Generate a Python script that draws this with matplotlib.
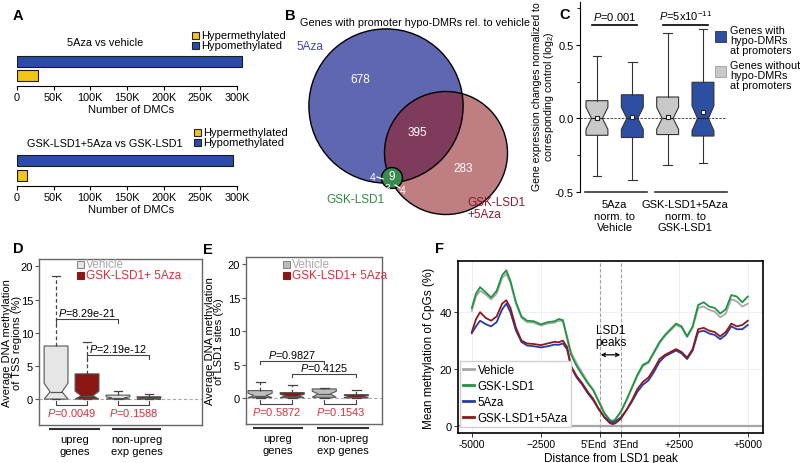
import numpy as np
import matplotlib
matplotlib.use("Agg")
import matplotlib.pyplot as plt
from matplotlib.patches import Circle, Rectangle

plt.rcParams['font.family'] = ['Liberation Sans', 'DejaVu Sans']
plt.rcParams['mathtext.fontset'] = 'custom'
plt.rcParams['mathtext.rm'] = 'Liberation Sans'
plt.rcParams['mathtext.it'] = 'Liberation Sans:italic'
plt.rcParams['mathtext.bf'] = 'Liberation Sans:bold'

# ---- panel A : number of DMCs
dmc_titles = ["5Aza vs vehicle", "GSK-LSD1+5Aza vs GSK-LSD1"]
dmc_hyper = [29000, 14000]
dmc_hypo = [307000, 294000]
dmc_ticks = [0, 50000, 100000, 150000, 200000, 250000, 300000]
dmc_tick_labels = ["0", "50K", "100K", "150K", "200K", "250K", "300K"]

# ---- panel B : venn counts
venn_only_5aza = 678
venn_5aza_combo = 395
venn_only_combo = 283
venn_all = 9
venn_5aza_gsk = 4
venn_only_gsk = 3
venn_gsk_combo = 4

# ---- panel C : expression changes (box stats)
c_groups = ["5Aza\nnorm. to\nVehicle", "GSK-LSD1+5Aza\nnorm. to\nGSK-LSD1"]
c_q1 = [-0.115, -0.13, -0.11, -0.12]
c_med = [0.0, 0.0, 0.0, 0.0]
c_q3 = [0.12, 0.16, 0.145, 0.245]
c_lo = [-0.39, -0.42, -0.32, -0.30]
c_hi = [0.42, 0.38, 0.58, 0.61]
c_mean = [0.0, 0.01, 0.01, 0.045]
c_notch = [0.075, 0.075, 0.075, 0.085]
c_pvals = ["$P$=0.001", "$P$=5x10$^{-11}$"]

# ---- panel D : TSS methylation
d_q1 = [0.0, 0.0, 0.0, 0.0]
d_med = [1.1, 0.5, 0.2, 0.12]
d_q3 = [8.0, 3.8, 0.6, 0.35]
d_lo = [0.0, 0.0, 0.0, 0.0]
d_hi = [18.5, 8.6, 1.2, 0.8]
d_ci_hi = [2.4, 1.2, 0.35, 0.2]
d_top_p = ["$P$=8.29e-21", "$P$=2.19e-12"]
d_bottom_p = ["$P$=0.0049", "$P$=0.1588"]

# ---- panel E : LSD1 sites methylation
e_q1 = [0.05, 0.05, 0.1, 0.02]
e_med = [0.35, 0.3, 0.6, 0.15]
e_q3 = [1.1, 0.8, 1.35, 0.5]
e_lo = [0.0, 0.0, 0.0, 0.0]
e_hi = [2.4, 1.9, 1.55, 1.2]
e_ci_hi = [0.7, 0.55, 1.0, 0.35]
e_top_p = ["$P$=0.9827", "$P$=0.4125"]
e_bottom_p = ["$P$=0.5872", "$P$=0.1543"]

de_groups = ["upreg\ngenes", "non-upreg\nexp genes"]

# ---- panel F : CpG methylation profile around LSD1 peaks
f_dist = [-5000, -4850, -4700, -4500, -4300, -4100, -3900, -3750, -3600, -3400,
          -3200, -3000, -2750, -2500, -2250, -2000, -1850, -1700, -1550, -1400,
          -1200, -1000, -800, -600, -400, -200, 0, 100, 200, 400,
          600, 800, 1000, 1200, 1400, 1600, 1800, 2000, 2200, 2400,
          2600, 2800, 3000, 3200, 3400, 3600, 3800, 4000, 4200, 4400,
          4600, 4800, 5000]
f_vehicle = [40.5, 45.5, 47.5, 46.2, 44.5, 46.5, 52.0, 53.5, 50.3, 43.0,
             38.0, 36.5, 36.3, 35.3, 36.0, 36.3, 37.0, 36.8, 31.5, 25.8,
             22.0, 18.7, 15.5, 12.8, 8.8, 4.7, 2.1, 1.8, 2.4, 5.0,
             9.0, 13.3, 17.6, 21.0, 22.2, 25.5, 29.0, 31.6, 33.6, 35.5,
             34.6, 31.2, 34.5, 41.5, 42.0, 40.8, 40.2, 38.2, 39.5, 44.6,
             43.8, 42.0, 43.0]
f_gsk = [41.5, 46.5, 48.8, 47.0, 45.2, 47.5, 53.0, 54.7, 51.0, 43.5,
         38.5, 37.0, 36.8, 35.7, 36.5, 36.8, 37.6, 37.2, 31.0, 25.0,
         21.0, 18.0, 15.0, 12.5, 8.5, 4.5, 2.0, 1.6, 2.2, 5.0,
         9.0, 13.5, 18.0, 21.5, 22.5, 26.0, 29.5, 32.0, 34.0, 36.0,
         35.0, 31.5, 35.0, 42.5, 43.5, 42.0, 41.5, 39.5, 41.0, 46.0,
         45.5, 43.5, 45.5]
f_5aza = [32.6, 35.0, 37.0, 35.8, 35.0, 36.5, 41.0, 43.0, 40.0, 33.5,
          29.5, 28.3, 28.0, 27.6, 28.0, 28.6, 28.5, 29.0, 27.0, 20.5,
          17.0, 14.5, 11.5, 9.0, 5.8, 3.2, 1.4, 1.2, 1.5, 3.0,
          5.5, 8.5, 12.0, 14.5, 16.0, 19.0, 22.5, 24.5, 25.5, 26.5,
          25.5, 23.5, 26.5, 33.0, 33.5, 32.5, 32.0, 30.5, 32.0, 35.0,
          34.0, 34.0, 35.5]
f_combo = [33.0, 37.5, 40.0, 38.0, 37.0, 38.5, 43.0, 44.2, 41.5, 34.5,
           30.0, 29.0, 28.8, 28.4, 29.0, 29.6, 29.4, 30.0, 27.8, 21.0,
           17.5, 15.0, 12.0, 9.5, 6.0, 3.0, 1.0, 0.6, 0.9, 2.5,
           5.5, 9.0, 13.0, 15.5, 17.0, 20.0, 23.5, 25.0, 26.0, 27.0,
           26.0, 24.0, 27.0, 34.0, 34.5, 33.5, 33.0, 31.5, 33.0, 36.0,
           35.0, 35.5, 37.0]
f_labels = ["Vehicle", "GSK-LSD1", "5Aza", "GSK-LSD1+5Aza"]

W, H = 800, 464
BLUE = "#2C4BA8"
YELLOW = "#F2C514"
RED_TXT = "#DC2F3C"
DARK_RED = "#8B1616"

fig = plt.figure(figsize=(W / 100, H / 100), dpi=100)
canvas = fig.add_axes([0, 0, 1, 1])
canvas.set_xlim(0, W)
canvas.set_ylim(H, 0)
canvas.axis('off')
canvas.set_zorder(10)


def px_axes(l, t, r, b):
    """Axes placed with pixel edges (left, top, right, bottom)."""
    return fig.add_axes([l / W, 1 - b / H, (r - l) / W, (b - t) / H])


def legend_square(x, y, face, edge, label, color, size=7, fs=8):
    canvas.add_patch(Rectangle((x, y - size / 2), size, size, facecolor=face,
                               edgecolor=edge, lw=0.8))
    canvas.text(x + size + 2, y, label, fontsize=fs, color=color, va='center', ha='left')


# panel letters
for letter, x, y in [("A", 18, 16), ("B", 290, 16), ("C", 565, 15),
                     ("D", 18, 249), ("E", 208, 250), ("F", 440, 249)]:
    canvas.text(x, y, letter, fontsize=10.5, fontweight='bold', ha='center', va='center')

# ---------------- A
a_boxes = [(17, 52, 245, 87), (17, 151, 245, 187)]
a_titles_y = [43, 144]
a_leg = [(192, 36), (194, 133)]
for i in range(2):
    ax = px_axes(*a_boxes[i])
    ax.barh([1], [dmc_hypo[i]], height=0.79, color=BLUE, edgecolor="#1a1a1a", lw=0.8)
    ax.barh([0], [dmc_hyper[i]], height=0.79, color=YELLOW, edgecolor="#1a1a1a", lw=0.8)
    ax.set_xlim(0, 310909)
    ax.set_ylim(-0.75, 1.75)
    for s in ['top', 'right', 'left']:
        ax.spines[s].set_visible(False)
    ax.spines['bottom'].set_bounds(0, 300000)
    ax.spines['bottom'].set_linewidth(0.8)
    ax.set_yticks([])
    ax.set_xticks(dmc_ticks)
    ax.set_xticklabels(dmc_tick_labels, fontsize=7.8)
    ax.tick_params(axis='x', length=3, width=0.8, pad=1.5)
    ax.set_xlabel("Number of DMCs", fontsize=8, labelpad=1)
    ax.patch.set_alpha(0)
    canvas.text(105, a_titles_y[i], dmc_titles[i], fontsize=7.8, ha='center', va='center')
    lx, ly = a_leg[i]
    legend_square(lx, ly, YELLOW, "#222", "Hypermethylated", "black", fs=8)
    legend_square(lx, ly + 10, BLUE, "#222", "Hypomethylated", "black", fs=8)

# ---------------- B
canvas.text(415, 23, "Genes with promoter hypo-DMRs rel. to vehicle", fontsize=7.8,
            ha='center', va='center')
axb = px_axes(295, 28, 530, 230)
axb.set_xlim(295, 530)
axb.set_ylim(230, 28)
axb.axis('off')
total_5aza = venn_only_5aza + venn_5aza_combo + venn_all + venn_5aza_gsk
total_combo = venn_only_combo + venn_5aza_combo + venn_all + venn_gsk_combo
total_gsk = venn_all + venn_5aza_gsk + venn_only_gsk + venn_gsk_combo
k = 2.34
c5 = Circle((386, 107), k * np.sqrt(total_5aza), facecolor="#5F67B0", edgecolor='none')
cc = Circle((446, 154), k * np.sqrt(total_combo), facecolor="#BF7E82", edgecolor='none')
axb.add_patch(c5)
axb.add_patch(cc)
ov = Circle((446, 154), k * np.sqrt(total_combo), facecolor="#7E3B5B", edgecolor='none')
axb.add_patch(ov)
ov.set_clip_path(c5)
for c, r in [((386, 107), k * np.sqrt(total_5aza)), ((446, 154), k * np.sqrt(total_combo))]:
    axb.add_patch(Circle(c, r, facecolor='none', edgecolor='black', lw=1.0))
axb.add_patch(Circle((392, 179), k * np.sqrt(total_gsk), facecolor="#3A8A4E",
                     edgecolor='black', lw=1.0))
vt = dict(color='white', fontsize=8.5, ha='center', va='center')
axb.text(360, 80, str(venn_only_5aza), **vt)
axb.text(417, 133, str(venn_5aza_combo), **vt)
axb.text(463, 169, str(venn_only_combo), **vt)
axb.text(392, 177, str(venn_all), **vt)
axb.text(373, 178, str(venn_5aza_gsk), color='white', fontsize=7.5, ha='center', va='center')
axb.plot([377, 383], [178, 180], color='white', lw=0.9)
axb.text(388, 189, str(venn_only_gsk), color='white', fontsize=7.5, ha='center', va='center')
axb.text(403, 191, str(venn_gsk_combo), color='white', fontsize=7.5, ha='center', va='center')
axb.plot([395, 400], [186, 189], color='white', lw=0.9)
canvas.text(310, 47, "5Aza", color="#3C4AA8", fontsize=8.5, ha='center', va='center')
canvas.text(355, 200, "GSK-LSD1", color="#2E8B45", fontsize=8.5, ha='center', va='center')
canvas.text(467, 203, "GSK-LSD1", color="#8B1A2A", fontsize=8.5, ha='left', va='center')
canvas.text(467, 215, "+5Aza", color="#8B1A2A", fontsize=8.5, ha='left', va='center')

# ---------------- C
axc = px_axes(580, 3, 727, 193)
c_stats = []
for i in range(4):
    c_stats.append(dict(med=c_med[i], q1=c_q1[i], q3=c_q3[i], whislo=c_lo[i], whishi=c_hi[i],
                        mean=c_mean[i], cilo=c_med[i] - c_notch[i], cihi=c_med[i] + c_notch[i],
                        fliers=[]))
bp = axc.bxp(c_stats, positions=[1, 2, 3, 4], widths=0.62, shownotches=True, showmeans=True,
             patch_artist=True, capwidths=0.25,
             boxprops=dict(edgecolor='#333333', lw=0.8),
             whiskerprops=dict(color='#333333', lw=0.8),
             capprops=dict(color='#333333', lw=0.8),
             medianprops=dict(color='#222222', lw=0.8),
             meanprops=dict(marker='s', markerfacecolor='white', markeredgecolor='#222',
                            markersize=3.5, markeredgewidth=0.8))
for b, col in zip(bp['boxes'], ["#C8C8C8", "#2D4FA2", "#C8C8C8", "#2D4FA2"]):
    b.set_facecolor(col)
axc.axhline(0, color='#333333', lw=0.6, ls=(0, (3, 1.5)), zorder=0.5)
axc.set_xlim(0.52, 4.68)
axc.set_ylim(-0.5, 0.79)
for s in ['top', 'right', 'bottom']:
    axc.spines[s].set_visible(False)
axc.spines['left'].set_linewidth(0.8)
axc.set_xticks([])
axc.set_yticks([-0.5, 0.0, 0.5])
axc.set_yticklabels(["-0.5", "0.0", "0.5"], fontsize=8)
axc.set_yticks([-0.25, 0.25, 0.75], minor=True)
axc.tick_params(axis='y', which='major', length=3, width=0.8, pad=1.5)
axc.tick_params(axis='y', which='minor', length=2, width=0.6)
for (x0, x1), p in zip([(0.87, 2.13), (2.87, 4.13)], c_pvals):
    axc.plot([x0, x1], [0.637, 0.637], color='black', lw=1.2, clip_on=False)
    axc.text((x0 + x1) / 2, 0.655, p, fontsize=8, ha='center', va='bottom')
for (x0, x1) in [(0.66, 2.42), (2.65, 4.68)]:
    axc.plot([x0, x1], [-0.5, -0.5], color='#333333', lw=1.2, clip_on=False)
for xc, g in zip([1.5, 3.5], c_groups):
    axc.text(xc, -0.55, g, fontsize=8, ha='center', va='top', linespacing=1.15)
canvas.text(544, 97, "Gene expression changes normalized to\ncorresponding control (log$_2$)",
            rotation=90, fontsize=7.6, ha='center', va='center', multialignment='center',
            linespacing=0.95)
canvas.add_patch(Rectangle((715, 32), 11, 11, facecolor="#2D4FA2", edgecolor='#333', lw=0.6))
canvas.text(730, 41, "Genes with\nhypo-DMRs\nat promoters", fontsize=7.8, ha='left', va='center',
            linespacing=0.95)
canvas.add_patch(Rectangle((715, 67), 11, 11, facecolor="#C8C8C8", edgecolor='#999', lw=0.6))
canvas.text(730, 76, "Genes without\nhypo-DMRs\nat promoters", fontsize=7.8, ha='left',
            va='center', linespacing=0.95)


# ---------------- D and E
def methyl_panel(box, xlim, width, q1, med, q3, lo, hi, ci_hi, gray_col, top_p, bottom_p,
                 top_y, ylabel, ylabel_x, group_lines, leg_xy):
    ax = px_axes(*box)
    stats = []
    for i in range(4):
        stats.append(dict(med=med[i], q1=q1[i], q3=q3[i], whislo=lo[i], whishi=hi[i],
                          cilo=q1[i], cihi=ci_hi[i], fliers=[]))
    bp = ax.bxp(stats, positions=[1, 2, 3, 4], widths=width, shownotches=True, patch_artist=True,
                capwidths=0.28,
                boxprops=dict(edgecolor='#555555', lw=0.8),
                whiskerprops=dict(color='#444444', lw=0.9, ls=(0, (3, 2))),
                capprops=dict(color='#444444', lw=0.9),
                medianprops=dict(color='#555555', lw=0.9))
    for b, col in zip(bp['boxes'], [gray_col, DARK_RED, gray_col, DARK_RED]):
        b.set_facecolor(col)
    ax.axhline(0, color='#AAAAAA', lw=0.8, ls=(0, (3, 2)), zorder=0.5)
    ax.set_xlim(*xlim)
    ax.set_ylim(-3.9, 21.1)
    for s in ax.spines.values():
        s.set_color('#666666')
        s.set_linewidth(1.0)
    ax.set_xticks([])
    ax.set_yticks([0, 5, 10, 15, 20])
    ax.set_yticklabels(["0", "5", "10", "15", "20"], fontsize=8)
    ax.tick_params(axis='y', length=3, width=0.8, pad=1.2, color='#555555')
    ax.set_ylabel(ylabel, fontsize=8, linespacing=0.95)
    ax.yaxis.set_label_coords(ylabel_x, 0.5)
    # comparisons between conditions
    for (x0, x1), yb, p in zip([(1, 3), (2, 4)], top_y, top_p):
        ax.plot([x0, x0, x1, x1], [yb - 0.5, yb, yb, yb - 0.5], color='#444444', lw=0.8)
        ax.text((x0 + x1) / 2, yb + 0.15, p, fontsize=7.8, ha='center', va='bottom')
    for (x0, x1), p in zip([(1, 2), (3, 4)], bottom_p):
        ax.plot([x0, x0, x1, x1], [-0.35, -0.9, -0.9, -0.35], color='#444444', lw=0.8)
        ax.text((x0 + x1) / 2, -2.0, p, fontsize=8, color=RED_TXT, ha='center', va='center')
    for (x0, x1), g in zip(group_lines, de_groups):
        ax.plot([x0, x1], [-4.5, -4.5], color='#333333', lw=1.5, clip_on=False)
        ax.text((x0 + x1) / 2, -5.3, g, fontsize=8, ha='center', va='top', linespacing=1.25)
    lx, ly = leg_xy
    legend_square(lx, ly, gray_col, '#888888', "Vehicle", '#A8A8A8', size=7, fs=8.5)
    legend_square(lx, ly + 11, DARK_RED, DARK_RED, "GSK-LSD1+ 5Aza", RED_TXT, size=7, fs=8.5)
    return ax


methyl_panel((39, 260, 202, 426), (0.45, 5.71), 0.77, d_q1, d_med, d_q3, d_lo, d_hi, d_ci_hi,
             "#E6E6E6", d_top_p, d_bottom_p, [12.0, 6.6],
             "Average DNA methylation\nof TSS regions (%)", -0.105,
             [(0.8, 2.4), (2.85, 4.35)], (77, 265))
methyl_panel((246, 258, 382, 425), (0.56, 4.8), 0.75, e_q1, e_med, e_q3, e_lo, e_hi, e_ci_hi,
             "#BDBDBD", e_top_p, e_bottom_p, [5.6, 3.6],
             "Average DNA methylation\nof LSD1 sites (%)", -0.16,
             [(0.8, 2.3), (2.8, 4.35)], (283, 265))

# ---------------- F
axf = px_axes(458, 262, 763, 434)
axf.grid(color='#EDEDED', lw=0.6)
axf.set_axisbelow(True)
axf.axhline(0, color='#A5A5A5', lw=1.6, zorder=1)
f_marks = [-350, 400]
for xv in f_marks:
    axf.axvline(xv, color='#A0A0A0', lw=0.8, ls=(0, (3, 2)), zorder=1)
for series, col in zip([f_vehicle, f_gsk, f_5aza, f_combo],
                       ["#A8A8A8", "#1F9441", "#2A3BA6", "#8C1A1C"]):
    axf.plot(f_dist, series, color=col, lw=1.3, zorder=3)
axf.set_xlim(-5500, 5550)
axf.set_ylim(-2.5, 58)
axf.set_xticks([-5000, -2500, -350, 400, 2500, 5000])
axf.set_xticklabels(["-5000", "\u22122500", "", "", "+2500", "+5000"], fontsize=7.5)
for xv, lab, dx in zip(f_marks, ["5'End", "3'End"], [-4.5, 3.5]):
    axf.annotate(lab, xy=(xv, 0), xycoords=('data', 'axes fraction'), xytext=(dx, -4.5),
                 textcoords='offset points', ha='center', va='top', fontsize=7.5)
axf.set_yticks([0, 20, 40])
axf.set_yticklabels(["0", "20", "40"], fontsize=8)
axf.tick_params(length=3, width=0.7, pad=1.5, color='#333333')
for s in axf.spines.values():
    s.set_linewidth(1.2)
axf.set_xlabel("Distance from LSD1 peak", fontsize=8.5, labelpad=2)
axf.set_ylabel("Mean methylation of CpGs (%)", fontsize=8.5, labelpad=3)
axf.text(25, 31.5, "LSD1\npeaks", fontsize=8.5, ha='center', va='center', linespacing=1.0)
axf.annotate('', xy=(-330, 25), xytext=(380, 25),
             arrowprops=dict(arrowstyle='<->', lw=0.9, color='black', shrinkA=0, shrinkB=0,
                             mutation_scale=6))
f_lines = axf.get_lines()[-4:]
leg = axf.legend(f_lines, f_labels, loc='lower left', bbox_to_anchor=(0.0, 0.02),
                 fontsize=8.3, handlelength=0.9, handletextpad=0.35, labelspacing=0.36,
                 borderpad=0.25, borderaxespad=0.2, fancybox=False, framealpha=1,
                 edgecolor='#D0D0D0')
for h in leg.get_lines():
    h.set_linewidth(2)

fig.savefig("out.png", dpi=100)
